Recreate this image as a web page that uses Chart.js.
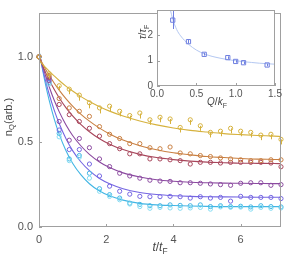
<!DOCTYPE html>
<html><head><meta charset="utf-8">
<script src="https://cdn.jsdelivr.net/npm/chart.js@4"></script>
<style>
html,body{margin:0;padding:0;background:#fff;}
#wrap{position:relative;width:286px;height:257px;overflow:hidden;font-family:"Liberation Sans",Arial,sans-serif;color:#444;}
canvas{position:absolute;top:0;}
.lab{position:absolute;white-space:nowrap;transform:translate(-50%,-50%);line-height:1;}
.rot{transform:translate(-50%,-50%) rotate(-90deg);}
sub{font-size:70%;vertical-align:-0.3em;}
</style></head>
<body>
<div id="wrap">
<canvas id="main" width="286" height="257" style="left:0"></canvas>
<canvas id="inset" width="146" height="110" style="left:140px"></canvas>
<div class="lab rot" style="left:9px;top:117px;font-size:11px;">n<sub>Q</sub>(arb.)</div>
<div class="lab" style="left:160px;top:248px;font-size:12px;"><i>t</i>/<i>t</i><sub>F</sub></div>
<div class="lab" style="left:217px;top:103px;font-size:10px;"><i>Q</i>/<i>k</i><sub>F</sub></div>
<div class="lab rot" style="left:144px;top:32px;font-size:10px;"><i>τ</i>/<i>τ</i><sub>F</sub></div>
</div>
<script>
// ---- main chart data ----
const tPts = [0,0.3,0.6,0.9,1.2,1.5,1.8,2.1,2.4,2.7,3.0,3.3,3.6,3.9,4.2,4.5,4.8,5.1,5.4,5.7,6.0,6.3,6.6,6.9,7.2];
const yellowPts = [1.0,0.90,0.83,0.81,0.775,0.73,0.70,0.71,0.68,0.655,0.67,0.63,0.645,0.635,0.585,0.63,0.595,0.556,0.563,0.58,0.563,0.556,0.54,0.545,0.515];
const orangePts = [1.0,0.89,0.755,0.70,0.68,0.65,0.59,0.545,0.52,0.49,0.49,0.466,0.46,0.47,0.435,0.43,0.42,0.414,0.406,0.40,0.395,0.39,0.39,0.395,0.395];
const redPts    = [1.0,0.88,0.72,0.66,0.62,0.58,0.534,0.49,0.46,0.43,0.43,0.40,0.40,0.395,0.39,0.37,0.38,0.38,0.376,0.38,0.38,0.38,0.38,0.376,0.354];
const purplePts = [1.0,0.86,0.62,0.51,0.52,0.466,0.40,0.355,0.316,0.30,0.287,0.275,0.27,0.268,0.26,0.26,0.257,0.253,0.249,0.245,0.257,0.26,0.26,0.245,0.249];
const violetPts = [1.0,0.87,0.57,0.455,0.455,0.37,0.30,0.24,0.21,0.193,0.18,0.178,0.178,0.18,0.178,0.17,0.178,0.17,0.174,0.152,0.18,0.174,0.174,0.174,0.167];
const cyanPts   = [1.0,0.85,0.55,0.40,0.42,0.316,0.225,0.19,0.17,0.14,0.133,0.125,0.125,0.13,0.127,0.125,0.13,0.12,0.125,0.12,0.122,0.118,0.125,0.12,0.118];
const lcyanPts  = [1.0,0.84,0.53,0.39,0.41,0.287,0.21,0.18,0.16,0.135,0.12,0.11,0.115,0.112,0.11,0.112,0.115,0.105,0.118,0.116,0.117,0.105,0.115,0.11,0.112];
const yellowErr = [0.0,0.012,0.012,0.012,0.015,0.015,0.015,0.012,0.012,0.012,0.015,0.012,0.012,0.012,0.012,0.012,0.012,0.012,0.012,0.012,0.012,0.012,0.012,0.012,0.012];

const fitX = [0,0.1,0.2,0.3,0.45,0.6,0.8,1.0,1.25,1.5,1.8,2.1,2.5,3.0,3.5,4.0,4.5,5.0,5.5,6.0,6.5,7.0,7.2];
const yellowFit = [0.98,0.957,0.936,0.916,0.888,0.861,0.828,0.799,0.766,0.737,0.707,0.681,0.652,0.623,0.600,0.582,0.568,0.558,0.549,0.543,0.538,0.534,0.532];
const orangeFit = [1.0,0.962,0.926,0.893,0.846,0.804,0.754,0.710,0.662,0.622,0.581,0.547,0.511,0.478,0.454,0.436,0.424,0.414,0.408,0.403,0.399,0.397,0.396];
const redFit    = [1.0,0.951,0.907,0.866,0.810,0.760,0.702,0.653,0.602,0.560,0.519,0.487,0.455,0.427,0.408,0.396,0.387,0.381,0.378,0.375,0.374,0.373,0.372];
const purpleFit = [1.02,0.952,0.886,0.826,0.746,0.678,0.601,0.538,0.476,0.427,0.382,0.349,0.318,0.294,0.278,0.269,0.263,0.260,0.258,0.257,0.256,0.255,0.255];
const violetFit = [1.03,0.938,0.856,0.783,0.688,0.608,0.520,0.449,0.382,0.331,0.285,0.254,0.225,0.203,0.191,0.184,0.180,0.178,0.177,0.176,0.175,0.175,0.175];
const cyanFit   = [1.04,0.930,0.832,0.747,0.637,0.546,0.450,0.375,0.306,0.254,0.211,0.183,0.158,0.139,0.130,0.126,0.123,0.121,0.120,0.120,0.120,0.120,0.120];

const xTicks = [0,2,4,6];
const yTicks = [0,0.5,1.0];

// ---- inset data ----
const qVals = [0.2,0.4,0.6,0.9,1.0,1.1,1.4];
const tauVals = [2.6,1.75,1.25,1.12,0.97,0.92,0.83];
const tauErrLo = [2.25,1.68,1.2,1.07,0.92,0.87,0.78];
const tauErrHi = [3.1,1.82,1.3,1.17,1.02,0.97,0.88];
const qFit = [0.17,0.2,0.25,0.3,0.4,0.5,0.6,0.7,0.8,0.9,1.0,1.1,1.2,1.3,1.4,1.5];
const tauFit = [3.0,2.64,2.23,1.98,1.65,1.42,1.27,1.17,1.10,1.04,1.0,0.96,0.93,0.90,0.88,0.86];
const qTicks = [0,0.5,1.0,1.5];
const tauTicks = [0,1,2];

const C = {yellow:'#d6b23e', orange:'#c98043', red:'#a8475c', purple:'#8b4aa0', violet:'#7566e2', cyan:'#43b6e4', lcyan:'#86dcf2'};

function pts(xs, ys){ return xs.map((x,i)=>({x:x, y:ys[i]})); }
function fitDs(ys, col){ return {data:pts(fitX, ys), showLine:true, borderColor:col, borderWidth:1.1, pointRadius:0, cubicInterpolationMode:'monotone', fill:false, order:2}; }
function ptDs(ys, col){ return {data:pts(tPts, ys), showLine:false, borderColor:col, backgroundColor:'rgba(0,0,0,0)', borderWidth:1, pointRadius:2.1, pointStyle:'circle', clip:5, order:1}; }

const framePlugin = {
  id:'frame',
  beforeDraw(chart, args, opts){
    if(opts.fill){ const a=chart.chartArea; chart.ctx.save(); chart.ctx.fillStyle='#fff'; chart.ctx.fillRect(a.left,a.top,a.right-a.left,a.bottom-a.top); chart.ctx.restore(); }
  },
  afterDatasetsDraw(chart, args, opts){
    if(!opts.errs) return;
    const ctx = chart.ctx, xs = chart.scales.x, ys = chart.scales.y;
    ctx.save(); ctx.strokeStyle = C.yellow; ctx.lineWidth = 1; ctx.beginPath();
    tPts.forEach((t,i)=>{ if(!yellowErr[i]) return; const px=Math.round(xs.getPixelForValue(t))+0.5; ctx.moveTo(px, ys.getPixelForValue(yellowPts[i]-yellowErr[i])-2); ctx.lineTo(px, ys.getPixelForValue(yellowPts[i]-yellowErr[i])+3); });
    ctx.stroke(); ctx.restore();
  },
  afterDraw(chart, args, opts){
    const a = chart.chartArea, ctx = chart.ctx;
    ctx.save();
    ctx.strokeStyle = opts.color || '#999'; ctx.lineWidth = 1;
    ctx.strokeRect(Math.round(a.left)+0.5, Math.round(a.top)+0.5, Math.round(a.right-a.left)-1, Math.round(a.bottom-a.top)-1);
    const tl = opts.tick || 3;
    const xs = chart.scales.x, ys = chart.scales.y;
    ctx.beginPath();
    xs.ticks.forEach(t=>{ const p=Math.round(xs.getPixelForValue(t.value))+0.5; ctx.moveTo(p,a.bottom); ctx.lineTo(p,a.bottom-tl); });
    ys.ticks.forEach(t=>{ const p=Math.round(ys.getPixelForValue(t.value))+0.5; ctx.moveTo(a.left,p); ctx.lineTo(a.left+tl,p); });
    ctx.stroke();
    ctx.restore();
  }
};

const errPlugin = {
  id:'errbars',
  afterDatasetsDraw(chart){
    const ctx = chart.ctx, a = chart.chartArea, xs = chart.scales.x, ys = chart.scales.y;
    ctx.save();
    ctx.beginPath(); ctx.rect(a.left,a.top,a.right-a.left,a.bottom-a.top); ctx.clip();
    ctx.strokeStyle = '#6f7fe0'; ctx.lineWidth = 1;
    ctx.beginPath();
    qVals.forEach((q,i)=>{ const px=Math.round(xs.getPixelForValue(q))+0.5; ctx.moveTo(px, ys.getPixelForValue(tauErrLo[i])); ctx.lineTo(px, ys.getPixelForValue(tauErrHi[i])); });
    ctx.stroke();
    ctx.restore();
  }
};

const tickFont = {family:'"Liberation Sans", Arial, sans-serif', size:11};

new Chart(document.getElementById('main'), {
  type:'scatter',
  data:{datasets:[
    fitDs(yellowFit,C.yellow), fitDs(orangeFit,C.orange), fitDs(redFit,C.red), fitDs(purpleFit,C.purple), fitDs(violetFit,C.violet), fitDs(cyanFit,C.cyan),
    ptDs(yellowPts,C.yellow), ptDs(orangePts,C.orange), ptDs(redPts,C.red), ptDs(purplePts,C.purple), ptDs(violetPts,C.violet), ptDs(lcyanPts,C.lcyan), ptDs(cyanPts,C.cyan)
  ]},
  options:{
    responsive:false, devicePixelRatio:1, animation:false,
    layout:{padding:{top:2,right:3,left:0,bottom:0}},
    plugins:{legend:{display:false}, tooltip:{enabled:false}, frame:{color:'#a0a0a0', tick:3, errs:true}},
    scales:{
      x:{type:'linear', min:0, max:7.2, border:{display:false}, grid:{display:false, drawTicks:false, tickLength:0},
         afterBuildTicks:s=>{s.ticks = xTicks.map(v=>({value:v}));},
         afterFit:s=>{s.height=30;},
         ticks:{color:'#555', font:tickFont, padding:6, maxRotation:0, callback:v=>String(v)}},
      y:{type:'linear', min:0, max:1.26, border:{display:false}, grid:{display:false, drawTicks:false, tickLength:0},
         afterBuildTicks:s=>{s.ticks = yTicks.map(v=>({value:v}));},
         afterFit:s=>{s.width=39;},
         ticks:{color:'#555', font:tickFont, padding:6, callback:v=>v.toFixed(1)}}
    }
  },
  plugins:[framePlugin]
});

const insetFont = {family:'"Liberation Sans", Arial, sans-serif', size:10};
new Chart(document.getElementById('inset'), {
  type:'scatter',
  data:{datasets:[
    {data:pts(qFit,tauFit), showLine:true, borderColor:'#b4c8f2', borderWidth:1, pointRadius:0, cubicInterpolationMode:'monotone', order:2},
    {data:pts(qVals,tauVals), showLine:false, borderColor:'#6f7fe0', backgroundColor:'rgba(0,0,0,0)', borderWidth:1, pointStyle:'rect', pointRadius:3, order:1}
  ]},
  options:{
    responsive:false, devicePixelRatio:1, animation:false,
    layout:{padding:{top:5,right:11,left:0,bottom:0}},
    plugins:{legend:{display:false}, tooltip:{enabled:false}, frame:{color:'#a0a0a0', tick:3, fill:true}},
    scales:{
      x:{type:'linear', min:0, max:1.5, border:{display:false}, grid:{display:false, drawTicks:false, tickLength:0},
         afterBuildTicks:s=>{s.ticks = qTicks.map(v=>({value:v}));},
         afterFit:s=>{s.height=24;},
         ticks:{color:'#555', font:insetFont, padding:2, maxRotation:0, callback:v=>v.toFixed(1)}},
      y:{type:'linear', min:0, max:3.0, border:{display:false}, grid:{display:false, drawTicks:false, tickLength:0},
         afterBuildTicks:s=>{s.ticks = tauTicks.map(v=>({value:v}));},
         afterFit:s=>{s.width=17;},
         ticks:{color:'#555', font:insetFont, padding:4, callback:v=>String(v)}}
    }
  },
  plugins:[framePlugin, errPlugin]
});
</script>
</body></html>
